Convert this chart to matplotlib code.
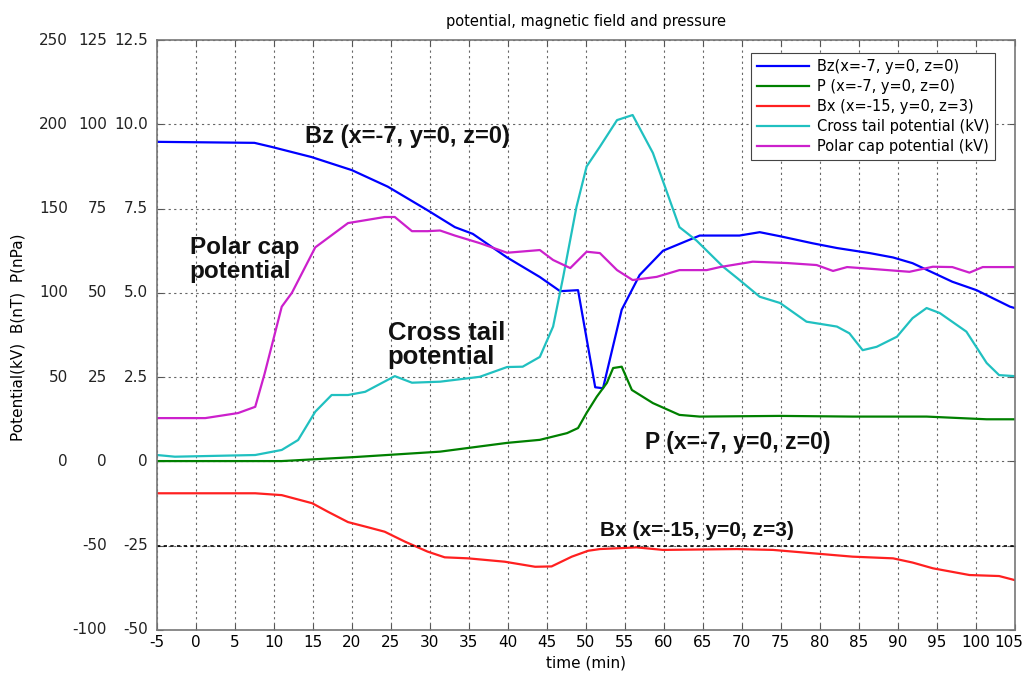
# -*- coding: utf-8 -*-

import matplotlib
matplotlib.use('Agg')
import matplotlib.pyplot as plt
import matplotlib.transforms as mtransforms
import numpy as np

# Bz at (x=-7, y=0, z=0), nT (plotted x2 on the kV scale)
bz_t = [-5, 7.5, 9.7, 14.8, 20, 24.6, 29.7, 33.2, 35.5, 39.9, 44.1, 46.7, 49, 51.2, 52.2,
        54.6, 56.9, 59.9, 64.6, 69.7, 72.3, 74.9, 79.1, 82.2, 86.4, 89.4, 91.9, 94.5,
        97, 100.1, 104.4, 105]
bz_nt = [94.8, 94.5, 93.3, 90.3, 86.4, 81.5, 74.5, 69.5, 67.5, 60.5, 54.7, 50.5, 50.8, 22,
         21.7, 45, 55.3, 62.5, 67, 67, 68, 66.8, 64.7, 63.3, 61.8, 60.5, 58.8, 56,
         53.3, 50.8, 45.9, 45.5]

# P at (x=-7, y=0, z=0), nPa (plotted x20)
p_t = [-5, 11, 20.4, 31.3, 39.9, 44.1, 47.6, 49, 50.1, 51.4, 52.7, 53.5, 54.6, 55.9, 58.6,
       62, 64.6, 74.9, 84.2, 93.7, 101.4, 105]
p_npa = [0.01, 0.01, 0.13, 0.29, 0.55, 0.64, 0.84, 0.99, 1.44, 1.92, 2.33, 2.77, 2.81, 2.12,
         1.73, 1.38, 1.33, 1.35, 1.33, 1.33, 1.25, 1.25]

# Bx at (x=-15, y=0, z=3), nT
bx_t = [-5, 7.6, 11, 14.9, 16.9, 19.5, 22, 24.2, 26.8, 29.7, 31.9, 34.9, 39.6, 43.5, 45.6,
        48.2, 50.3, 51.8, 56.5, 59.9, 69.4, 74, 79.1, 84.2, 89.4, 91.9, 94.5, 99.2, 103, 105]
bx_nt = [-18.9, -18.9, -20, -24.8, -29.8, -36, -39, -41.7, -47.6, -53.5, -56.9, -57.5, -59.5,
         -62.5, -62.3, -56.5, -53, -52, -51, -52.5, -52, -52.5, -54.5, -56.5, -57.5, -60,
         -63.4, -67.4, -68, -70.4]

# cross tail potential, kV
ct_t = [-5, -2.7, 7.6, 11, 13.1, 15.3, 17.4, 19.5, 21.7, 25.5, 27.7, 31.3, 36.4, 39.9, 41.9,
        44.1, 45.8, 47.1, 48.8, 50.1, 51.8, 54, 56, 58.6, 62, 64.2, 67.6, 69.4, 72.3, 74.9,
        78.3, 82.2, 83.8, 85.5, 87.3, 89.9, 91.9, 93.7, 95.4, 98.8, 101.4, 103, 105]
ct_kv = [3.8, 2.8, 3.8, 6.8, 12.7, 29.5, 39.4, 39.4, 41.3, 50.6, 46.7, 47.3, 50.2, 56, 56.2,
         62, 80, 109.6, 151, 175, 186.7, 202.5, 205.5, 183, 139, 131, 115.5, 108.8, 97.7, 94,
         82.9, 80, 76, 66, 68, 74, 85, 91, 88, 77, 58.4, 51.2, 50.6]

# polar cap potential, kV
pc_t = [-5, 1.2, 5.4, 7.6, 8.8, 11, 12.3, 15.3, 19.5, 24.2, 25.5, 27.7, 29.7, 31.3, 33.2,
        36.4, 39.9, 44.1, 45.8, 48, 50.1, 51.8, 54, 56, 59.1, 62, 65.5, 67.2, 71.4, 75.8,
        79.6, 81.7, 83.5, 87.3, 91.5, 94.5, 97, 99.2, 100.9, 105]
pc_kv = [25.7, 25.7, 28.7, 32.4, 52, 91.8, 100, 127, 141.4, 145, 145, 136.6, 136.6, 137, 134,
         129.5, 123.8, 125.4, 119.5, 114.7, 124.4, 123.6, 113.5, 107.6, 109.5, 113.5, 113.5,
         115.3, 118.5, 117.7, 116.5, 113, 115.3, 114, 112.5, 115.5, 115.3, 112, 115.3, 115.3]

# y tick positions (kV) and the three label columns
yticks = [-100, -50, 0, 50, 100, 150, 200, 250]
kv_labels = ['', '', '0', '50', '100', '150', '200', '250']
b_labels = ['-100', '-50', '0', '25', '50', '75', '100', '125']
p_labels = ['-50', '-25', '0', '2.5', '5.0', '7.5', '10.0', '12.5']
xticks = list(range(-5, 110, 5))

fig = plt.figure(figsize=(10.26, 6.75), dpi=100)
ax = fig.add_axes([0.153, 0.0667, 0.836, 0.874])

ax.plot(bz_t, np.array(bz_nt) * 2, color='#0000ff', lw=1.6, label='Bz(x=-7, y=0, z=0)')
ax.plot(p_t, np.array(p_npa) * 20, color='#008000', lw=1.6, label='P (x=-7, y=0, z=0)')
ax.plot(bx_t, bx_nt, color='#ff2020', lw=1.6, label='Bx (x=-15, y=0, z=3)')
ax.plot(ct_t, ct_kv, color='#20c0c0', lw=1.6, label='Cross tail potential (kV)')
ax.plot(pc_t, pc_kv, color='#cc20cc', lw=1.6, label='Polar cap potential (kV)')

ax.set_xlim(-5, 105)
ax.set_ylim(-100, 250)
ax.set_xticks(xticks)
ax.set_xticklabels([str(x) for x in xticks], fontsize=11)
ax.set_yticks(yticks)
ax.set_yticklabels([])
ax.tick_params(direction='in', top=True, right=True, length=4, color='#555555')
ax.grid(True, linestyle=(0, (2, 3)), color='#666666', lw=0.8)
ax.axhline(-50, color='black', linestyle=(0, (2, 2)), lw=1.2)
for s in ax.spines.values():
    s.set_color('#777777')
    s.set_linewidth(1.2)

# pull the last x label in so it is not clipped
last = ax.get_xticklabels()[-1]
last.set_transform(last.get_transform() +
                   mtransforms.ScaledTranslation(-6 / 100, 0, fig.dpi_scale_trans))

# three columns of y tick labels
bt = mtransforms.blended_transform_factory(ax.transAxes, ax.transData)
for labels, dx in [(kv_labels, -89), (b_labels, -50), (p_labels, -9)]:
    tr = mtransforms.offset_copy(bt, fig=fig, x=dx, y=0, units='dots')
    for v, lab in zip(yticks, labels):
        ax.text(0, v, lab, transform=tr, ha='right', va='center', fontsize=11, color='#222222')

ax.set_xlabel('time (min)', fontsize=11)
fig.text(18 / 1026, 0.5, 'Potential(kV)  B(nT)  P(nPa)', rotation=90, fontsize=11,
         ha='center', va='center')
ax.set_title('potential, magnetic field and pressure', fontsize=10.5, pad=10)

# curve annotations
af = dict(fontweight='bold', family='Liberation Sans', color='#111111')
ax.text(14, 193, 'Bz (x=-7, y=0, z=0)', ha='left', va='center', fontsize=17, **af)
ax.text(-0.8, 120, 'Polar cap\npotential', ha='left', va='center', linespacing=1.05,
        fontsize=17.5, **af)
ax.text(24.6, 69, 'Cross tail\npotential', ha='left', va='center', linespacing=1.0,
        fontsize=18.5, **af)
ax.text(57.6, 11.5, 'P (x=-7, y=0, z=0)', ha='left', va='center', fontsize=16.5, **af)
ax.text(51.8, -41, 'Bx (x=-15, y=0, z=3)', ha='left', va='center', fontsize=15, **af)

leg = ax.legend(loc='upper right', fontsize=10.5, handlelength=3.6, fancybox=False,
                framealpha=1, edgecolor='#444444', borderpad=0.4, labelspacing=0.35,
                handletextpad=0.5, bbox_to_anchor=(0.9855, 0.99))
leg.get_frame().set_linewidth(0.8)

fig.savefig('out.png', dpi=100)
